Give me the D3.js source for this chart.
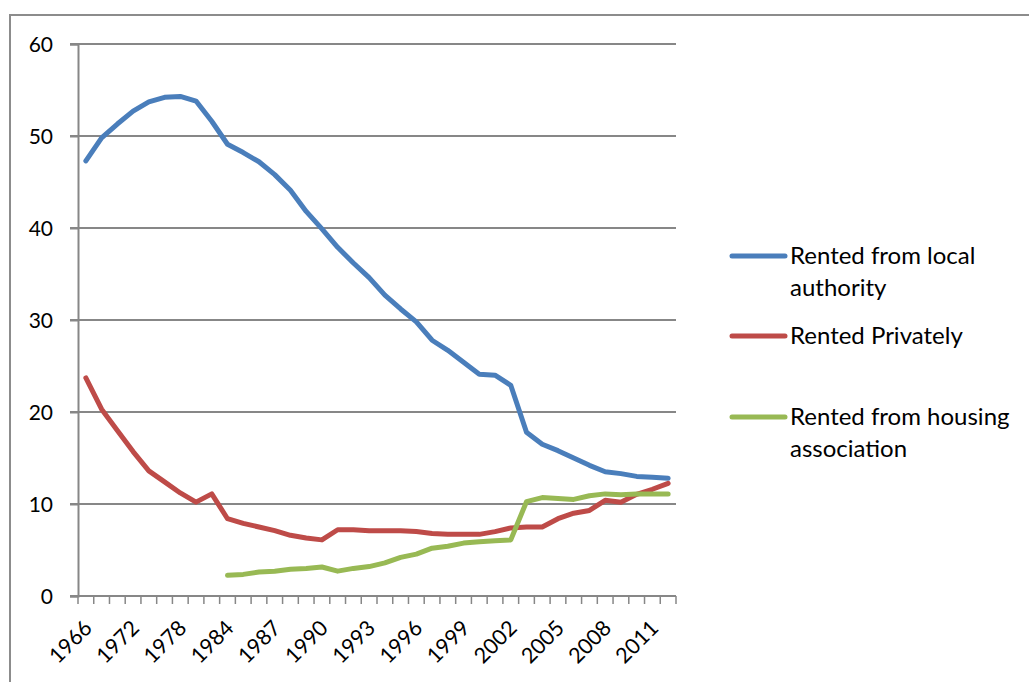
<!DOCTYPE html>
<html>
<head>
<meta charset="utf-8">
<script src="https://cdn.jsdelivr.net/npm/d3@7"></script>
<style>
  body { margin: 0; background: #fff; }
  text { font-family: Lato, "Open Sans", sans-serif; fill: #000; }
</style>
</head>
<body>
<svg width="1029" height="682"></svg>
<script>
var years = [1966, 1968, 1970, 1972, 1974, 1976, 1978, 1980, 1982, 1984,
  1985, 1986, 1987, 1988, 1989, 1990, 1991, 1992, 1993, 1994, 1995, 1996,
  1997, 1998, 1999, 2000, 2001, 2002, 2003, 2004, 2005, 2006, 2007, 2008,
  2009, 2010, 2011, 2012];

var yTicks = [0, 10, 20, 30, 40, 50, 60];
var labelYears = [1966, 1972, 1978, 1984, 1987, 1990, 1993, 1996, 1999, 2002, 2005, 2008, 2011];

var localAuthority = [47.3, 49.8, 51.3, 52.7, 53.7, 54.2, 54.3, 53.8, 51.6, 49.1,
  48.2, 47.2, 45.8, 44.1, 41.8, 39.9, 37.9, 36.2, 34.6, 32.7, 31.2, 29.8,
  27.8, 26.7, 25.4, 24.1, 24.0, 22.9, 17.8, 16.5, 15.8, 15.0, 14.2, 13.5,
  13.3, 13.0, 12.9, 12.8];

var privately = [23.7, 20.3, 18.0, 15.7, 13.6, 12.4, 11.2, 10.2, 11.1, 8.4,
  7.9, 7.5, 7.1, 6.6, 6.3, 6.1, 7.2, 7.2, 7.1, 7.1, 7.1, 7.0,
  6.8, 6.7, 6.7, 6.7, 7.0, 7.4, 7.5, 7.5, 8.4, 9.0, 9.3, 10.4,
  10.2, 11.05, 11.6, 12.25];

var housingAssoc = [null, null, null, null, null, null, null, null, null, 2.25,
  2.35, 2.6, 2.7, 2.9, 3.0, 3.15, 2.7, 3.0, 3.2, 3.6, 4.2, 4.55,
  5.2, 5.4, 5.75, 5.9, 6.0, 6.1, 10.25, 10.7, 10.6, 10.5, 10.9, 11.1,
  11.0, 11.1, 11.1, 11.1];

var svg = d3.select("svg");
var gridColor = "#878787";

// outer chart border
svg.append("rect")
  .attr("x", 10).attr("y", 15)
  .attr("width", 1040).attr("height", 700)
  .attr("fill", "none")
  .attr("stroke", "#8c8c8c")
  .attr("stroke-width", 2);

var x = d3.scaleBand().domain(years).range([78, 676]).paddingInner(0).paddingOuter(0);
var y = d3.scaleLinear().domain([0, 60]).range([596, 44]);

function cx(d) { return x(d) + x.bandwidth() / 2; }

// gridlines
svg.append("g")
  .selectAll("line")
  .data(yTicks)
  .enter().append("line")
  .attr("x1", 70).attr("x2", 676)
  .attr("y1", function(d) { return y(d); })
  .attr("y2", function(d) { return y(d); })
  .attr("stroke", gridColor)
  .attr("stroke-width", 2);

// y axis
var yAxis = svg.append("g")
  .attr("transform", "translate(78,0)")
  .call(d3.axisLeft(y).tickValues(yTicks).tickSize(8).tickPadding(17));
yAxis.select(".domain").attr("stroke", gridColor).attr("stroke-width", 2);
yAxis.selectAll(".tick line").attr("stroke", gridColor).attr("stroke-width", 2);
yAxis.selectAll(".tick text")
  .style("font-size", "21px")
  .attr("dy", "0.36em");

// x axis line and category ticks
var xg = svg.append("g");
xg.append("line")
  .attr("x1", 78).attr("x2", 676)
  .attr("y1", 596).attr("y2", 596)
  .attr("stroke", gridColor).attr("stroke-width", 2);
xg.selectAll(".ctick")
  .data(years.map(function(d) { return x(d); }).concat([676]))
  .enter().append("line")
  .attr("class", "ctick")
  .attr("x1", function(d) { return d; })
  .attr("x2", function(d) { return d; })
  .attr("y1", 596).attr("y2", 604)
  .attr("stroke", gridColor).attr("stroke-width", 1.5);

xg.selectAll(".xlab")
  .data(labelYears)
  .enter().append("text")
  .attr("class", "xlab")
  .attr("text-anchor", "end")
  .style("font-size", "21.5px")
  .attr("transform", function(d) {
    return "translate(" + (cx(d) + 2) + ",624) rotate(-45)";
  })
  .attr("dy", "0.36em")
  .text(function(d) { return d; });

// lines
var colors = ["#4A7EBB", "#BE4B48", "#98B954"];
var allSeries = [localAuthority, privately, housingAssoc];

var line = d3.line()
  .defined(function(d) { return d != null; })
  .x(function(d, i) { return cx(years[i]); })
  .y(function(d) { return y(d); });

svg.append("g")
  .selectAll("path")
  .data(allSeries)
  .enter().append("path")
  .attr("d", line)
  .attr("fill", "none")
  .attr("stroke", function(d, i) { return colors[i]; })
  .attr("stroke-width", 5)
  .attr("stroke-linejoin", "round")
  .attr("stroke-linecap", "round");

// legend
var legendRows = [
  { y: 256, lines: ["Rented from local", "authority"] },
  { y: 336, lines: ["Rented Privately"] },
  { y: 417, lines: ["Rented from housing", "association"] }
];

var leg = svg.append("g")
  .selectAll("g")
  .data(legendRows)
  .enter().append("g");

leg.append("line")
  .attr("x1", 732).attr("x2", 785)
  .attr("y1", function(d) { return d.y; })
  .attr("y2", function(d) { return d.y; })
  .attr("stroke", function(d, i) { return colors[i]; })
  .attr("stroke-width", 5)
  .attr("stroke-linecap", "round");

leg.append("text")
  .attr("x", 790)
  .attr("y", function(d) { return d.y; })
  .style("font-size", "24px")
  .selectAll("tspan")
  .data(function(d) { return d.lines; })
  .enter().append("tspan")
  .attr("x", 790)
  .attr("dy", function(d, i) { return i == 0 ? "0.35em" : "1.33em"; })
  .text(function(d) { return d; });
</script>
</body>
</html>
